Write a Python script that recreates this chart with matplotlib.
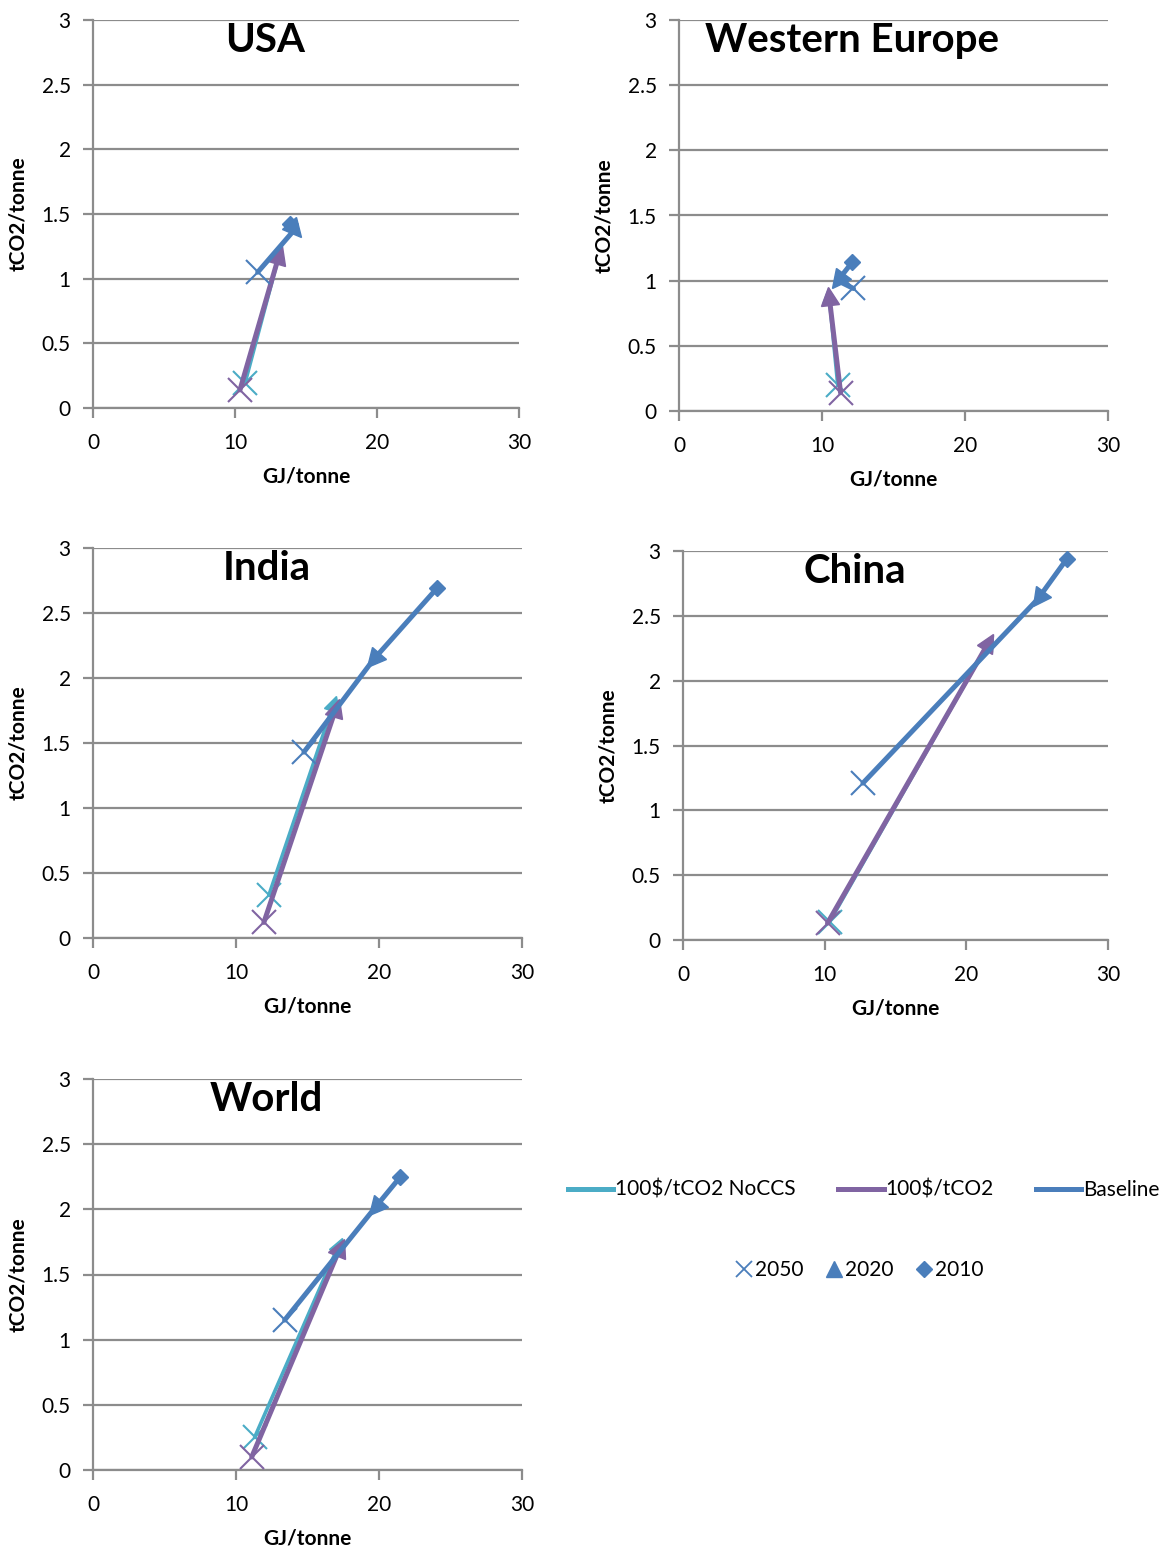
import math
import matplotlib
matplotlib.use("Agg")
import matplotlib.pyplot as plt
from matplotlib.lines import Line2D
from matplotlib.markers import MarkerStyle
from matplotlib.transforms import Affine2D

plt.rcParams['font.family'] = ['Lato', 'DejaVu Sans']

# Regions, one panel each
regions = ["USA", "Western Europe", "India", "China", "World"]

# Baseline scenario: energy intensity (GJ/tonne) and CO2 intensity (tCO2/tonne)
baseline_gj_2010 = [13.9, 12.1, 24.05, 27.1, 21.5]
baseline_co2_2010 = [1.42, 1.14, 2.69, 2.94, 2.25]
baseline_gj_2020 = [14.2, 11.1, 19.6, 25.05, 19.7]
baseline_co2_2020 = [1.38, 1.00, 2.14, 2.63, 2.01]
baseline_gj_2050 = [11.6, 12.2, 14.75, 12.7, 13.4]
baseline_co2_2050 = [1.05, 0.94, 1.43, 1.21, 1.15]

# 100$/tCO2 scenario
tax_gj_2020 = [13.1, 10.5, 17.0, 21.6, 17.3]
tax_co2_2020 = [1.18, 0.88, 1.77, 2.30, 1.71]
tax_gj_2050 = [10.35, 11.3, 11.95, 10.2, 11.1]
tax_co2_2050 = [0.14, 0.14, 0.12, 0.13, 0.10]

# 100$/tCO2 without CCS
noccs_gj_2020 = [13.1, 10.5, 16.85, 21.6, 17.2]
noccs_co2_2020 = [1.18, 0.88, 1.81, 2.30, 1.73]
noccs_gj_2050 = [10.7, 11.1, 12.3, 10.35, 11.3]
noccs_co2_2050 = [0.19, 0.20, 0.33, 0.14, 0.25]

x_ticks = [0, 10, 20, 30]
y_ticks = [0, 0.5, 1, 1.5, 2, 2.5, 3]
y_tick_labels = ["0", "0.5", "1", "1.5", "2", "2.5", "3"]

C_NOCCS = "#4BACC6"
C_TAX = "#8064A2"
C_BASE = "#4A7EBB"
GRID = "#8C8C8C"

W, H = 1164, 1553
# axes boxes in pixels: left, right, top, bottom
boxes = [
    (93, 519, 20, 408),
    (679, 1108, 20, 411),
    (93, 522, 548, 938),
    (683, 1108, 551, 940),
    (93, 522, 1079, 1470),
]

fig = plt.figure(figsize=(W / 100, H / 100), dpi=100)


def heading_marker(ax, start, end):
    """Triangle marker pointing along the segment start -> end."""
    x0, y0 = ax.transData.transform(start)
    x1, y1 = ax.transData.transform(end)
    ang = math.degrees(math.atan2(y1 - y0, x1 - x0))
    return MarkerStyle("^", transform=Affine2D().rotate_deg(ang - 90))


def path(ax, start, end, color, lw, z, tri=True, tri_size=13):
    ax.plot([start[0], end[0]], [start[1], end[1]], color=color, lw=lw,
            solid_capstyle="round", zorder=z)
    if tri:
        ax.plot([end[0]], [end[1]], marker=heading_marker(ax, start, end),
                ms=tri_size, color=color, ls="none", zorder=z)


for i, name in enumerate(regions):
    l, r, t, b = boxes[i]
    ax = fig.add_axes([l / W, 1 - b / H, (r - l) / W, (b - t) / H])
    ax.set_xlim(0, 30)
    ax.set_ylim(0, 3)
    ax.set_xticks(x_ticks)
    ax.set_yticks(y_ticks)
    ax.set_yticklabels(y_tick_labels)
    ax.yaxis.grid(True, color=GRID, lw=1.6)
    ax.set_axisbelow(True)
    for s in ("top", "right"):
        ax.spines[s].set_visible(False)
    for s in ("left", "bottom"):
        ax.spines[s].set_color(GRID)
        ax.spines[s].set_linewidth(1.6)
    ax.tick_params(axis="both", colors=GRID, width=1.6, length=7,
                   labelcolor="black", labelsize=15)
    ax.tick_params(axis="y", pad=9)
    ax.tick_params(axis="x", pad=11)
    ax.set_xlabel("GJ/tonne", fontsize=15, fontweight="bold", labelpad=10)
    ax.set_ylabel("tCO2/tonne", fontsize=15, fontweight="bold", labelpad=10)
    ax.text(0.404, 0.947, name, transform=ax.transAxes, ha="center", va="center",
            fontsize=29, fontweight="bold")

    # 100$/tCO2 NoCCS
    p20 = (noccs_gj_2020[i], noccs_co2_2020[i])
    p50 = (noccs_gj_2050[i], noccs_co2_2050[i])
    path(ax, p50, p20, C_NOCCS, 2.6, 3, tri_size=11)
    ax.plot([p50[0]], [p50[1]], marker="x", ms=17, mew=1.5, color=C_NOCCS,
            ls="none", zorder=3)

    # 100$/tCO2
    p20 = (tax_gj_2020[i], tax_co2_2020[i])
    p50 = (tax_gj_2050[i], tax_co2_2050[i])
    path(ax, p50, p20, C_TAX, 3.6, 4)
    ax.plot([p50[0]], [p50[1]], marker="x", ms=17, mew=1.5, color=C_TAX,
            ls="none", zorder=4)

    # Baseline
    p10 = (baseline_gj_2010[i], baseline_co2_2010[i])
    p20 = (baseline_gj_2020[i], baseline_co2_2020[i])
    p50 = (baseline_gj_2050[i], baseline_co2_2050[i])
    path(ax, p10, p20, C_BASE, 3.6, 5)
    path(ax, p20, p50, C_BASE, 3.6, 5, tri=False)
    ax.plot([p10[0]], [p10[1]], marker="D", ms=8, color=C_BASE, ls="none",
            zorder=5)
    ax.plot([p50[0]], [p50[1]], marker="x", ms=17, mew=1.5, color=C_BASE,
            ls="none", zorder=5)

# Legends
line_handles = [Line2D([], [], color=C_NOCCS, lw=3.6),
                Line2D([], [], color=C_TAX, lw=3.6),
                Line2D([], [], color=C_BASE, lw=3.6)]
fig.legend(line_handles, ["100$/tCO2 NoCCS", "100$/tCO2", "Baseline"],
           loc="center", bbox_to_anchor=(0.742, 1 - 1190 / H), ncol=3,
           frameon=False, fontsize=15, handlelength=2.2, handletextpad=0.1,
           columnspacing=2.0)

marker_handles = [Line2D([], [], color=C_BASE, marker="x", ms=12, mew=1.3, ls="none"),
                  Line2D([], [], color=C_BASE, marker="^", ms=11, ls="none"),
                  Line2D([], [], color=C_BASE, marker="D", ms=8, ls="none")]
fig.legend(marker_handles, ["2050", "2020", "2010"],
           loc="center", bbox_to_anchor=(0.738, 1 - 1270 / H), ncol=3,
           frameon=False, fontsize=15, handlelength=0.9, handletextpad=0.1,
           columnspacing=1.0)

fig.savefig("out.png", dpi=100)
